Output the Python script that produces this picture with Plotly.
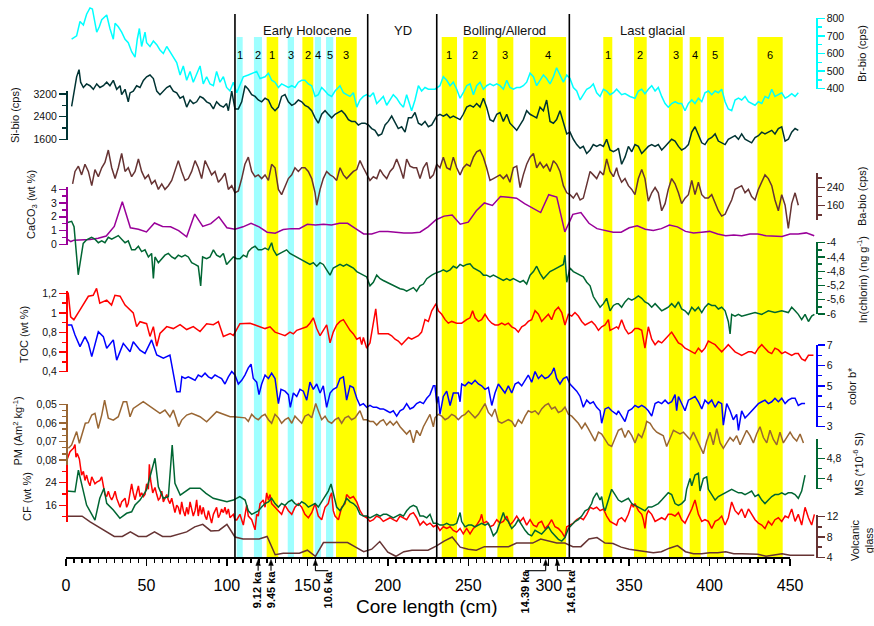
import plotly.graph_objects as go

# ---------------- data ----------------
# densely read series: (core length cm, value) pairs
br_bio_pts = [(3.5,681),(6.6,700),(8.7,782),(10.8,762),(12.8,823),(14.9,859),(16.4,853),(17.6,803),(19.1,721),(20.7,752),(22.2,792),(25.3,819),(27.3,742),(29.4,681),(30.5,772),(32.5,752),(34.6,721),(36.7,681),(38.7,661),(40.8,610),(42.9,579),(44.3,681),(45.6,742),(47.0,640),(49.1,721),(50.1,661),(52.2,640),(54.3,671),(56.4,650),(58.4,620),(60.5,600),(62.6,640),(64.6,610),(66.7,579),(68.8,549),(70.9,478),(72.9,529),(75.0,448),(77.1,498),(79.1,437),(81.2,488),(83.3,529),(85.3,427),(87.4,468),(89.5,427),(91.6,417),(93.6,498),(95.7,437),(97.8,468),(99.8,407),(101.9,387),(104.0,437),(106.1,377),(108.1,417),(110.2,468),
    (113.3,478),(115.4,488),(118.5,498),(120.6,458),(123.7,468),(125.8,488),(127.8,448),(129.9,437),(132.0,407),(134.0,427),(136.1,417),(138.2,407),(140.3,417),(142.3,407),(144.4,437),(146.5,448),(148.5,448),(150.6,427),(152.7,417),(154.8,356),(156.8,366),(158.9,407),(161.0,387),(163.0,366),(165.1,356),(167.2,387),(170.3,417),(172.4,377),(174.4,366),(176.5,356),(178.6,377),(180.7,295),(182.7,336),(184.8,356),(186.9,366),(188.9,356),(191.0,377),(193.1,316),(195.2,336),(197.2,356),(199.3,306),(201.4,336),(203.4,366),(205.5,346),(207.6,316),(209.7,295),(211.7,366),(214.8,275),(216.9,336),(219.0,417),(221.0,387),(223.1,407),(225.2,397),
    (229.3,397),(232.4,417),(234.5,468),(236.6,448),(238.7,417),(240.7,437),(242.8,397),(244.9,346),(246.9,377),(249.0,417),(251.1,427),(253.2,366),(255.2,417),(257.3,437),(259.4,397),(261.4,417),(263.5,427),(265.6,417),(267.7,427),(269.7,417),(271.8,397),(273.9,448),(275.9,407),(278.0,397),(280.1,407),(282.2,407),(284.2,417),(286.3,437),(288.4,488),(290.5,468),(292.5,417),(294.6,448),(296.7,478),(298.7,458),(300.8,427),(302.9,468),(304.9,519),(307.0,478),(309.1,437),(311.2,478),(313.2,458),(315.3,407),(317.4,387),(319.5,336),(321.5,366),(323.6,397),(325.7,407),(327.7,427),(329.8,377),(331.9,356),(334.0,397),(336.0,387),(338.1,366),(340.2,377),(342.2,397),
    (345.3,366),(347.4,372),(350.5,356),(353.6,346),(355.7,387),(357.8,397),(359.8,372),(361.9,397),(364.0,417),(366.1,387),(368.1,407),(370.2,356),(372.3,316),(374.3,295),(376.4,316),(378.5,326),(380.6,316),(382.6,316),(384.7,275),(386.8,316),(388.9,336),(390.9,316),(393.0,346),(395.1,326),(397.1,377),(399.2,387),(401.3,366),(403.4,387),(405.4,377),(407.5,397),(409.6,326),(411.6,285),(413.7,275),(415.8,336),(417.9,346),(419.9,336),(422.0,356),(424.1,326),(426.1,316),(428.2,306),(430.3,326),(432.4,316),(434.4,356),(436.5,346),(438.6,397),(440.6,356),(442.7,366),(444.8,377),(446.9,346),(448.9,356),(451.0,372),(453.1,356),(455.1,377)]

si_bio_pts = [(3.5,2761),(4.6,3114),(6.6,3807),(8.1,4060),(9.1,3618),(10.8,3429),(12.8,3555),(14.9,3492),(17.0,3366),(19.1,3555),(21.1,3429),(23.2,3492),(25.3,3618),(27.3,3492),(29.4,3681),(31.5,3366),(33.6,3492),(34.6,3177),(36.7,3366),(38.7,2925),(39.8,3240),(41.8,3303),(43.9,3492),(46.0,3429),(48.1,3681),(50.1,3807),(52.2,3871),(54.3,3744),(56.4,3303),(58.4,3177),(60.5,3303),(62.6,3429),(64.6,3492),(66.7,3303),(68.8,3240),(70.9,3051),(72.9,3114),(75.0,2736),(77.1,2988),(79.1,2862),(81.2,2925),(83.3,3114),(85.3,3051),(87.4,2925),(89.5,2862),(91.6,2673),(93.6,2925),(95.7,2799),(97.8,2736),(99.8,2862),(100.9,2610),(103.0,3303),(105.0,2673),(107.1,2673),(109.2,2925),(111.3,3492),
    (113.3,3366),(115.4,3177),(117.5,3114),(119.5,2988),(121.6,2925),(123.7,3051),(125.8,2988),(127.8,2736),(129.9,2610),(132.0,2736),(134.0,3114),(136.1,3177),(138.2,2925),(140.3,2799),(142.3,2862),(144.4,2988),(146.5,2925),(148.5,2799),(150.6,2736),(152.7,2610),(154.8,2358),(156.8,2169),(158.9,2484),(161.0,2610),(163.0,2484),(165.1,2358),(167.2,2484),(169.3,2547),(171.3,2610),(173.4,2484),(175.5,2295),(177.5,2232),(179.6,2232),(181.7,2106),(183.8,2169),(185.8,2169),(187.9,2106),(190.0,1980),(192.0,1917),(194.1,1727),(196.2,1790),(198.3,2106),(200.3,2232),(202.4,2421),(204.5,2169),(206.5,1980),(208.6,2043),(210.7,1854),(212.8,2358),(214.8,2358),(216.9,2547),(219.0,2169),(221.0,2106),(223.1,2232),(225.2,2043),(227.3,2106),
    (230.4,2421),(232.4,2484),(234.5,2421),(236.6,2484),(238.7,2358),(240.7,2421),(242.8,2358),(244.9,2295),(246.9,2484),(249.0,2736),(251.1,2799),(253.2,2736),(255.2,2862),(257.3,2736),(259.4,3051),(261.4,2736),(263.5,2295),(265.6,2232),(267.7,2484),(269.7,2547),(271.8,2232),(273.9,2484),(275.9,2169),(278.0,2043),(280.1,1917),(282.2,2106),(284.2,2295),(286.3,2610),(288.4,2484),(290.5,2421),(292.5,2358),(294.6,2736),(296.7,2610),(298.7,2988),(300.8,2232),(302.9,2169),(304.9,2295),(307.0,2610),(309.1,2232),(311.2,1790),(313.2,1854),(315.3,1601),(317.4,1412),(319.5,1286),(321.5,1349),(323.6,1097),(325.7,1223),(327.7,1412),(329.8,1349),(331.9,1412),(334.0,1349),(336.0,1601),(338.1,1223),(340.2,1160),(342.2,1223),
    (343.3,1286),(345.3,719),(347.4,971),(349.5,1349),(351.6,1160),(353.6,1412),(355.7,1349),(357.8,1097),(359.8,1223),(361.9,1349),(364.0,1412),(366.1,1349),(368.1,1412),(370.2,1223),(372.3,1349),(374.3,1475),(376.4,1601),(378.5,1538),(380.6,1349),(382.6,1223),(384.7,1286),(386.8,1412),(388.9,1853),(390.9,2043),(393.0,1727),(395.1,1475),(397.1,1412),(399.2,1601),(401.3,1664),(403.4,1790),(405.4,1538),(407.5,1475),(409.6,1412),(411.6,1601),(413.7,1664),(415.8,1727),(417.9,1601),(419.9,1790),(422.0,1601),(424.1,1538),(426.1,1475),(428.2,1664),(430.3,1727),(432.4,1853),(434.4,1790),(436.5,1853),(438.6,1916),(440.6,1790),(442.7,1980),(444.8,2043),(446.9,1538),(448.9,1601),(451.0,1853),(453.1,1980),(455.1,1916)]

ba_bio_pts = [(4.1,255),(5.6,309),(7.7,332),(9.7,294),(11.8,340),(13.9,309),(16.0,247),(18.0,317),(20.1,286),(22.2,325),(24.2,348),(26.3,402),(28.4,325),(30.5,278),(32.5,325),(34.6,387),(36.7,309),(38.7,325),(40.8,286),(42.9,309),(45.0,363),(47.0,309),(49.1,278),(51.2,294),(53.2,255),(55.3,270),(57.4,231),(59.5,255),(61.5,231),(63.6,247),(65.7,270),(67.7,309),(69.8,356),(71.9,309),(74.0,270),(76.0,278),(78.1,309),(80.2,356),(82.2,325),(84.3,278),(86.4,356),(88.5,325),(90.5,294),(92.6,309),(94.7,262),(96.7,278),(98.8,301),(100.9,231),(103.0,247),(105.0,216),(107.1,224),(109.2,278),(111.2,340),(113.3,371),
    (115.4,309),(117.5,286),(119.5,294),(121.6,278),(123.7,294),(125.8,270),(127.8,340),(129.9,325),(132.0,231),(134.0,208),(136.1,247),(138.2,278),(140.3,294),(142.3,325),(144.4,309),(146.5,325),(148.5,325),(150.6,309),(152.7,278),(154.8,216),(155.8,162),(157.9,231),(159.9,278),(162.0,309),(164.1,294),(166.1,286),(168.2,270),(170.3,325),(172.4,294),(174.4,278),(176.5,294),(178.6,309),(180.7,317),(182.7,356),(184.8,325),(186.9,294),(188.9,270),(191.0,286),(193.1,278),(195.2,317),(197.2,294),(199.3,278),(201.4,309),(203.4,325),(205.5,363),(207.6,325),(209.7,278),(211.7,363),(213.8,332),(215.9,325),(217.9,325),(220.0,278),(222.1,325),(224.2,348),(226.2,278),(228.3,294),
    (230.4,340),(232.4,325),(234.5,371),(236.6,325),(238.7,317),(240.7,371),(242.8,325),(244.9,294),(246.9,325),(249.0,340),(251.1,332),(253.2,371),(255.2,394),(257.3,402),(259.4,371),(261.4,325),(263.5,270),(265.6,278),(267.7,286),(269.7,294),(271.8,278),(273.9,294),(275.9,262),(278.0,325),(280.1,332),(282.2,239),(284.2,294),(286.3,340),(288.4,371),(290.5,387),(292.5,325),(294.6,348),(296.7,325),(298.7,340),(300.8,309),(302.9,356),(304.9,340),(307.0,309),(309.1,247),(311.2,216),(313.2,208),(315.3,193),(317.4,216),(319.5,185),(321.5,193),(323.6,247),(325.7,309),(327.7,294),(329.8,278),(331.9,309),(334.0,294),(336.0,363),(338.1,309),(340.2,286),(342.2,325),
    (343.3,294),(345.3,262),(347.4,278),(349.5,247),(351.6,231),(353.6,208),(355.7,278),(357.8,317),(359.8,278),(361.9,180),(364.0,216),(366.1,239),(368.1,216),(370.2,138),(372.3,169),(374.3,231),(376.4,278),(378.5,255),(380.6,216),(382.6,169),(384.7,193),(386.8,208),(388.9,270),(390.9,208),(393.0,262),(395.1,208),(397.1,193),(399.2,193),(401.3,208),(403.4,169),(405.4,138),(407.5,115),(409.6,123),(411.6,154),(413.7,185),(415.8,231),(417.9,239),(419.9,247),(422.0,216),(424.1,231),(426.1,200),(428.2,185),(430.3,231),(432.4,262),(434.4,294),(436.5,278),(438.6,247),(440.6,185),(442.7,138),(444.8,208),(446.9,162),(448.9,61),(451.0,169),(453.1,216),(455.1,162)]

ln_chlorin_pts = [(0.4,-3.44),(3.5,-3.40),(5.0,-3.55),(7.6,-4.9),(10.7,-4.02),(12.8,-3.92),(15.9,-3.85),(18.0,-3.90),(20.1,-4.0),(22.2,-3.95),(24.2,-4.0),(26.3,-3.85),(28.4,-3.90),(30.5,-3.85),(32.5,-3.80),(34.6,-3.90),(36.7,-4.0),(38.7,-3.95),(40.8,-4.2),(42.9,-4.2),(45.0,-4.1),(47.0,-4.25),(49.1,-4.2),(51.2,-4.4),(53.2,-4.3),(54.3,-5.0),(55.3,-4.4),(57.4,-4.56),(59.5,-4.45),(61.5,-4.35),(63.6,-4.30),(65.7,-4.4),(67.7,-4.45),(69.8,-4.35),(71.9,-4.4),(74.0,-4.35),(76.0,-4.4),(78.1,-4.56),(80.2,-4.61),(82.2,-4.66),(83.7,-5.21),(84.9,-4.4),(87.4,-4.45),(89.5,-4.4),(91.6,-4.2),(93.6,-4.35),(95.7,-4.4),(97.8,-4.3),(99.8,-4.61),(101.9,-4.5),(104.0,-4.4),(106.1,-4.45),(108.1,-4.45),(110.2,-4.35),(112.3,-4.4),
    (113.3,-4.25),(115.4,-4.15),(117.5,-4.10),(119.5,-4.20),(121.6,-4.20),(123.7,-4.15),(125.8,-4.20),(127.8,-4.0),(128.9,-4.20),(130.9,-4.35),(133.0,-4.30),(135.1,-4.25),(137.1,-4.20),(139.2,-4.30),(141.3,-4.35),(143.4,-4.40),(145.4,-4.45),(147.5,-4.51),(149.6,-4.56),(151.6,-4.61),(153.7,-4.56),(155.8,-4.66),(157.9,-4.56),(159.9,-4.61),(162.0,-4.76),(164.1,-4.91),(166.1,-4.71),(168.2,-4.66),(170.3,-4.61),(172.4,-4.66),(174.4,-4.61),(176.5,-4.66),(178.6,-4.71),(180.7,-4.81),(182.7,-4.86),(184.8,-4.91),(186.9,-4.96),(188.9,-5.21),(191.0,-5.11),(193.1,-4.91),(195.2,-5.01),(197.2,-5.06),(199.3,-5.11),(201.4,-5.16),(203.4,-5.21),(205.5,-5.26),(207.6,-5.29),(209.7,-5.31),(211.7,-5.36),(213.8,-5.31),(215.9,-5.26),(217.9,-5.36),(220.0,-5.21),(222.1,-5.16),(224.2,-5.01),(227.3,-4.91),
    (229.3,-4.86),(232.4,-4.81),(234.5,-4.76),(236.6,-4.81),(238.7,-4.76),(240.7,-4.66),(242.8,-4.71),(244.9,-4.61),(246.9,-4.66),(249.0,-4.61),(251.1,-4.59),(253.2,-4.71),(255.2,-4.76),(257.3,-4.81),(259.4,-4.91),(261.4,-4.91),(263.5,-4.96),(265.6,-4.91),(267.7,-4.96),(269.7,-5.01),(271.8,-5.06),(273.9,-5.01),(275.9,-5.06),(278.0,-5.01),(280.1,-5.06),(282.2,-5.11),(284.2,-5.06),(286.3,-5.16),(288.4,-4.91),(290.5,-4.81),(292.5,-4.66),(294.6,-4.86),(296.7,-5.01),(298.7,-4.91),(300.8,-4.81),(302.9,-4.76),(304.9,-4.71),(307.0,-4.66),(309.1,-4.61),(310.1,-4.35),(311.2,-5.11),(313.2,-4.71),(315.3,-4.81),(317.4,-4.86),(319.5,-4.91),(321.5,-4.96),(323.6,-5.11),(325.7,-5.21),(327.7,-5.51),(329.8,-5.66),(331.9,-5.81),(334.0,-5.71),(336.0,-5.56),(338.1,-5.91),(340.2,-5.76),(342.2,-5.71),
    (343.3,-5.71),(345.3,-5.81),(347.4,-5.66),(349.5,-5.56),(351.6,-5.61),(353.6,-5.56),(355.7,-5.49),(357.8,-5.56),(359.8,-5.66),(361.9,-5.71),(364.0,-5.81),(366.1,-5.71),(370.2,-5.91),(372.3,-5.86),(374.3,-5.81),(376.4,-5.71),(378.5,-5.81),(380.6,-5.66),(382.6,-5.86),(384.7,-5.91),(386.8,-6.01),(388.9,-5.81),(390.9,-5.91),(393.0,-5.81),(395.1,-5.96),(397.1,-5.81),(399.2,-5.71),(401.3,-5.76),(403.4,-5.76),(405.4,-5.86),(407.5,-5.81),(409.6,-5.91),(411.6,-6.21),(412.7,-6.56),(413.7,-6.01),(415.8,-6.06),(417.9,-6.01),(419.9,-6.06),(424.1,-6.01),(428.2,-5.96),(432.4,-6.01),(436.5,-5.91),(440.6,-5.96),(444.8,-5.91),(448.9,-5.96),(451.0,-5.81),(453.1,-5.91),(455.1,-6.01),(457.2,-6.16),(459.3,-6.01),(461.4,-6.21),(463.4,-6.06),(465.1,-6.01)]

toc_pts = [(0.4,1.22),(1.4,1.20),(2.9,0.96),(4.9,0.93),(8.7,1.03),(13.9,1.17),(16.9,1.18),(19.0,1.25),(21.0,1.10),(25.3,1.13),(28.3,1.08),(30.4,1.18),(33.6,1.17),(36.7,1.08),(41.8,1.0),(43.9,0.86),(46.0,0.91),(50.1,0.89),(52.2,0.76),(54.3,0.86),(56.4,0.66),(58.4,0.79),(62.6,0.86),(66.7,0.84),(70.9,0.88),(75.0,0.83),(79.1,0.86),(83.3,0.81),(87.4,0.89),(91.6,0.88),(94.7,0.91),(97.8,0.76),(102.0,0.79),(104.0,0.77),(108.1,0.89),
    (114.4,0.895),(117.5,0.877),(120.6,0.858),(123.7,0.840),(126.8,0.858),(129.9,0.804),(133.0,0.786),(136.1,0.767),(139.2,0.804),(141.3,0.786),(143.4,0.822),(146.5,0.840),(149.6,0.858),(151.6,0.895),(153.7,0.950),(155.8,0.840),(157.9,0.767),(159.9,0.822),(162.0,0.877),(164.1,0.694),(166.1,0.804),(168.2,0.877),(170.3,0.913),(172.4,0.931),(174.4,0.877),(176.5,0.822),(178.6,0.786),(180.7,0.731),(182.7,0.749),(183.8,0.676),(184.8,0.749),(186.9,0.640),(188.9,0.694),(191.0,0.877),(192.5,1.041),(194.1,0.786),(196.2,0.786),(198.3,0.786),(200.3,0.786),(202.4,0.767),(204.5,0.731),(206.5,0.713),(208.6,0.676),(210.7,0.713),(212.8,0.749),(214.8,0.731),(216.9,0.749),(219.0,0.767),(221.0,0.804),(223.1,0.931),(225.2,0.913),(227.3,1.022),
    (230.0,1.095),(231.4,1.022),(233.5,0.986),(235.6,0.931),(237.6,0.895),(239.7,0.913),(242.8,0.895),(245.9,0.895),(249.0,0.931),(251.1,0.950),(252.7,1.022),(254.2,0.950),(256.3,0.913),(258.3,0.931),(260.4,0.986),(262.5,0.931),(264.6,0.895),(266.6,0.877),(268.7,0.877),(270.8,0.895),(272.8,0.877),(274.9,0.895),(277.0,0.858),(279.1,0.840),(281.1,0.804),(283.2,0.858),(285.3,0.877),(287.3,0.913),(289.4,0.931),(291.5,1.022),(293.6,0.986),(295.6,0.913),(297.7,0.950),(299.8,0.986),(301.8,0.931),(303.9,1.022),(306.0,1.059),(308.1,1.004),(310.1,0.877),(312.2,0.986),(314.3,0.968),(316.3,1.004),(318.4,0.968),(320.5,0.913),(322.6,0.877),(324.6,0.895),(326.7,0.913),(328.8,0.877),(330.9,0.822),(332.9,0.858),(335.0,0.877),(337.1,0.931),(338.1,0.822),(340.2,0.840),(342.2,0.858),
    (343.3,0.840),(345.3,0.931),(347.4,0.840),(349.5,0.786),(351.6,0.804),(353.6,0.840),(355.7,0.840),(357.8,0.822),(359.8,0.640),(361.9,0.858),(364.0,0.731),(366.1,0.676),(368.1,0.713),(370.2,0.694),(372.3,0.731),(374.3,0.767),(376.4,0.804),(378.5,0.749),(380.6,0.694),(382.6,0.676),(384.7,0.640),(386.8,0.622),(388.9,0.603),(390.9,0.585),(393.0,0.640),(395.1,0.603),(397.1,0.640),(399.2,0.713),(401.3,0.694),(403.4,0.676),(405.4,0.640),(407.5,0.603),(409.6,0.640),(411.6,0.676),(413.7,0.640),(415.8,0.603),(417.9,0.585),(419.9,0.567),(422.0,0.585),(424.1,0.603),(426.1,0.603),(428.2,0.585),(430.3,0.640),(432.4,0.676),(434.4,0.640),(436.5,0.603),(438.6,0.585),(440.6,0.640),(442.7,0.622),(444.8,0.585),(446.9,0.603),(448.9,0.585),(451.0,0.567),(453.1,0.585),(455.1,0.585),(457.2,0.530),(459.3,0.512),(461.4,0.567),(464.5,0.567)]

color_b_pts = [(0.4,7.98),(3.5,7.98),(5.6,7.49),(8.7,6.92),(11.8,7.41),(13.9,7.08),(16.0,6.43),(20.1,7.65),(23.2,7.41),(25.3,6.84),(29.4,7.25),(31.5,6.26),(35.6,7.08),(39.8,6.67),(41.8,7.16),(46.0,6.75),(49.1,6.59),(53.2,7.25),(56.4,6.51),(60.5,6.35),(64.6,6.51),(68.8,4.71),(70.9,4.71),(72.0,5.45),
    (74.0,5.36),(76.0,5.44),(78.1,5.36),(80.2,5.27),(82.2,5.53),(84.3,5.44),(86.4,5.62),(88.5,5.44),(90.5,5.36),(92.6,5.53),(94.7,5.44),(96.7,5.36),(98.8,5.09),(100.9,5.44),(103.0,5.70),(105.0,5.53),(107.1,5.09),(109.2,5.27),(111.2,5.53),
    (113.3,5.88),(115.0,6.06),(116.4,5.36),(118.5,5.18),(119.95,4.57),(121.6,5.09),(123.7,5.53),(125.8,5.36),(127.8,5.62),(129.9,5.36),(130.9,4.74),(132.0,4.13),(133.6,4.83),(136.1,4.74),(138.2,4.57),(139.4,3.95),(141.3,4.65),(143.4,4.48),(145.4,4.83),(147.5,4.74),(149.6,4.30),(151.6,5.18),(153.7,4.83),(155.8,5.09),(157.9,4.65),(159.9,5.00),(162.0,3.95),(164.1,4.65),(166.1,4.83),(168.2,4.92),(170.3,5.36),(172.4,5.44),(174.4,4.30),(176.5,5.00),(178.6,4.92),(180.7,4.39),(182.7,4.04),(184.8,4.13),(186.9,3.95),(188.9,4.04),(191.0,3.95),(193.1,3.95),(195.2,3.87),(197.2,3.87),(199.3,3.78),(201.4,3.69),(203.4,3.78),(205.5,3.52),(207.6,3.78),(209.7,3.87),(211.7,4.13),(213.8,3.87),(215.9,3.95),(217.9,4.13),(220.0,4.22),(222.1,4.13),(224.2,4.39),(226.2,4.57),(228.3,5.00),
    (229.3,5.00),(230.4,4.13),(231.4,4.48),(232.4,3.60),(234.5,4.48),(236.6,4.74),(238.7,4.04),(240.7,4.65),(243.8,4.65),(244.9,4.22),(245.9,5.09),(248.0,5.00),(250.1,5.18),(252.1,5.09),(254.2,5.27),(256.3,5.09),(258.3,5.00),(260.4,4.83),(262.5,4.92),(264.6,4.04),(266.6,4.65),(268.7,5.09),(270.8,4.83),(272.8,4.65),(274.9,5.00),(277.0,4.65),(279.1,5.09),(281.1,5.18),(283.2,5.00),(285.3,5.27),(287.3,5.53),(289.4,5.18),(291.5,5.70),(293.6,5.36),(295.6,5.53),(297.7,5.36),(299.8,5.44),(301.8,5.62),(303.3,5.88),(304.9,5.36),(307.0,5.09),(309.1,5.36),(311.2,5.44),(313.2,5.09),(315.3,4.92),(317.4,4.74),(319.5,4.48),(321.5,3.95),(323.6,4.30),(325.7,4.13),(327.7,4.22),(329.8,3.95),(331.9,3.78),(332.9,3.17),(335.0,3.87),(337.1,3.95),(339.1,3.78),(342.2,3.60),
    (343.3,3.78),(345.3,3.52),(347.4,3.25),(349.5,3.78),(351.6,3.87),(353.6,4.04),(355.7,3.95),(357.8,4.04),(359.8,3.95),(361.9,3.78),(364.0,3.52),(366.1,4.13),(368.1,4.22),(370.2,4.13),(372.3,4.30),(374.3,4.13),(376.4,4.22),(378.5,4.57),(379.5,3.78),(380.6,4.48),(382.6,4.13),(384.7,3.78),(386.8,4.30),(388.9,4.39),(390.9,4.48),(393.0,4.22),(395.1,3.87),(397.1,4.30),(399.2,4.13),(401.3,4.30),(403.4,3.95),(405.4,4.22),(407.5,4.13),(408.5,3.08),(410.6,4.13),(412.7,3.78),(414.7,3.34),(416.8,3.60),(417.9,2.82),(419.9,3.78),(422.0,3.43),(424.1,3.60),(426.1,3.78),(428.2,3.95),(430.3,4.13),(432.4,4.22),(434.4,4.30),(436.5,4.13),(438.6,4.22),(440.6,4.39),(442.7,4.22),(444.8,4.39),(446.9,4.13),(448.9,4.30),(451.0,4.39),(453.1,4.39),(455.1,4.04),(457.2,4.13),(459.3,4.13)]

pm_pts = [(1.5,0.0737),(3.5,0.0719),(6.6,0.0647),(8.3,0.0710),(12.0,0.0602),(13.9,0.0599),(16.0,0.0558),(18.0,0.0549),(20.0,0.0630),(22.2,0.0558),(24.0,0.0477),(26.3,0.0575),(29.4,0.0585),(32.5,0.0567),(35.6,0.0486),(37.7,0.0486),(39.8,0.0567),(41.8,0.0522),(48.0,0.0486),(54.3,0.0522),(58.4,0.0549),(61.5,0.0531),(64.6,0.0567),(66.7,0.0531),(68.8,0.0583),(70.0,0.0620),(71.9,0.0585),(75.0,0.0558),(78.1,0.0549),(83.3,0.0567),(87.4,0.0594),(93.6,0.0540),(102.0,0.0567),(104.0,0.0567),
    (111.3,0.0573),(113.3,0.0592),(115.4,0.0554),(117.5,0.0573),(119.5,0.0583),(121.6,0.0564),(123.7,0.0554),(125.8,0.0583),(127.8,0.0602),(129.9,0.0554),(132.0,0.0573),(134.0,0.0602),(136.1,0.0583),(138.2,0.0573),(140.3,0.0602),(142.3,0.0564),(144.4,0.0583),(146.5,0.0602),(148.5,0.0564),(150.6,0.0554),(152.7,0.0573),(155.2,0.0496),(156.8,0.0535),(158.9,0.0583),(161.0,0.0564),(163.0,0.0592),(165.1,0.0602),(167.2,0.0583),(169.3,0.0573),(171.3,0.0602),(173.4,0.0573),(175.5,0.0564),(177.5,0.0583),(179.6,0.0573),(182.7,0.0535),(184.8,0.0583),(186.9,0.0583),(188.9,0.0592),(191.0,0.0592),(193.1,0.0612),(195.2,0.0592),(197.2,0.0583),(199.3,0.0612),(201.4,0.0592),(203.4,0.0612),(205.5,0.0592),(207.6,0.0621),(209.7,0.0640),(211.7,0.0660),(213.8,0.0640),(215.9,0.0708),(217.9,0.0640),(220.0,0.0669),(222.1,0.0621),(224.2,0.0583),(226.2,0.0554),(228.3,0.0621),
    (229.3,0.0573),(231.4,0.0554),(233.5,0.0564),(235.6,0.0583),(237.6,0.0573),(239.7,0.0554),(241.8,0.0564),(243.8,0.0583),(245.9,0.0564),(248.0,0.0554),(250.1,0.0535),(252.1,0.0554),(254.2,0.0573),(256.3,0.0554),(258.3,0.0525),(260.4,0.0496),(262.5,0.0544),(264.6,0.0564),(266.6,0.0525),(268.7,0.0592),(270.8,0.0602),(272.8,0.0592),(274.9,0.0583),(277.0,0.0592),(279.1,0.0621),(281.1,0.0583),(283.2,0.0602),(285.3,0.0564),(287.3,0.0535),(289.4,0.0544),(291.5,0.0535),(293.6,0.0554),(295.6,0.0525),(297.7,0.0506),(299.8,0.0496),(301.8,0.0525),(303.9,0.0515),(306.0,0.0544),(308.1,0.0535),(310.1,0.0515),(312.2,0.0554),(314.3,0.0564),(316.3,0.0583),(318.4,0.0602),(320.5,0.0631),(322.6,0.0602),(324.6,0.0631),(326.7,0.0669),(328.8,0.0698),(330.9,0.0650),(332.9,0.0660),(335.0,0.0689),(337.1,0.0718),(339.1,0.0727),(341.2,0.0679),(343.3,0.0640),
    (345.3,0.0631),(347.4,0.0679),(349.5,0.0640),(351.6,0.0669),(353.6,0.0708),(355.7,0.0660),(357.8,0.0679),(359.8,0.0631),(360.9,0.0592),(363.0,0.0602),(365.0,0.0631),(367.1,0.0650),(369.2,0.0660),(371.2,0.0669),(373.3,0.0727),(375.4,0.0679),(377.5,0.0640),(379.5,0.0650),(381.6,0.0660),(383.7,0.0650),(385.7,0.0669),(387.8,0.0689),(389.9,0.0650),(392.0,0.0689),(394.0,0.0718),(396.1,0.0766),(398.2,0.0698),(400.2,0.0650),(402.3,0.0718),(404.4,0.0631),(406.5,0.0708),(408.5,0.0737),(410.6,0.0708),(412.7,0.0679),(414.7,0.0698),(416.8,0.0669),(418.9,0.0718),(420.9,0.0679),(423.0,0.0640),(425.1,0.0669),(427.2,0.0708),(429.2,0.0660),(431.3,0.0621),(433.4,0.0679),(435.5,0.0708),(437.5,0.0640),(439.6,0.0689),(441.7,0.0718),(443.7,0.0650),(445.8,0.0708),(447.9,0.0679),(450.0,0.0650),(452.0,0.0679),(454.1,0.0698),(456.2,0.0660),(458.3,0.0708)]

cf_pts = [(0.4,31.8),(1.45,33.7),(2.5,35.0),(3.5,35.6),(4.6,36.2),(5.6,37.5),(6.2,33.0),(7.0,34.3),(8.3,32.4),(9.7,26.7),(10.8,28.0),(11.8,24.8),(12.8,26.7),(13.9,24.2),(14.9,22.9),(16.0,26.1),(17.0,24.8),(18.0,23.6),(19.1,24.2),(21.1,24.8),(22.2,26.1),(23.2,22.3),(24.2,19.8),(25.3,19.1),(26.3,21.0),(27.3,19.1),(28.4,17.9),(29.4,19.1),(30.5,21.0),(31.5,18.5),(32.5,16.6),(33.6,15.3),(34.6,17.2),(35.6,17.9),(36.7,18.5),(37.7,15.3),(38.7,16.6),(39.8,20.4),(40.8,23.6),(41.8,20.4),(42.9,17.9),(43.9,20.4),(45.0,22.9),(46.0,19.1),(47.0,20.4),(48.1,19.1),(49.1,19.8),(50.1,23.6),(51.2,21.7),(51.8,30.5),(52.6,24.8),(53.9,20.4),(55.3,22.3),(56.4,19.8),(57.4,17.9),(58.4,18.5),(59.5,21.0),(60.5,17.2),(61.5,18.5),(62.6,19.8),(63.6,17.9),(64.6,16.6),(65.7,18.5),(66.7,15.3),(67.7,13.4),(68.8,16.0),(69.8,15.3),(70.9,12.8),(71.9,17.2),(72.9,14.1),(74.0,12.2),(75.0,15.3),(76.0,12.8),(77.1,17.2),(78.1,14.7),(79.1,12.2),(80.2,14.1),(81.2,17.9),(82.2,12.2),(83.3,16.0),(84.3,12.8),(85.3,15.3),(86.4,12.2),(87.4,10.9),(88.5,14.1),(89.5,11.6),(90.5,9.7),(91.6,12.8),(93.6,15.3),(94.7,11.6),(95.7,12.8),(96.7,14.7),(97.8,13.4),(98.8,15.3),(99.8,12.8),(100.9,14.7),(101.9,11.6),(104.0,12.8),(105.0,10.9),(106.1,10.8),(108.1,12.8),(110.2,9.0),(112.3,16.1),
    (113.3,12.2),(115.4,10.9),(117.5,7.3),(118.5,12.8),(119.5,12.2),(120.6,16.6),(122.6,17.9),(123.7,15.3),(124.7,20.4),(125.8,17.9),(126.8,19.8),(127.8,16.6),(129.9,15.3),(132.0,14.1),(134.0,12.8),(136.1,16.0),(138.2,14.1),(140.3,12.8),(142.3,15.3),(144.4,16.6),(146.5,15.3),(148.5,12.8),(150.6,11.6),(152.7,13.4),(154.8,16.6),(156.8,12.2),(158.9,10.9),(161.0,15.3),(163.0,16.6),(164.1,19.1),(165.1,20.4),(166.1,14.1),(167.2,12.2),(169.3,10.9),(171.3,15.3),(173.4,16.6),(174.4,19.8),(176.5,18.5),(178.6,19.1),(180.7,17.2),(182.7,14.1),(184.8,12.2),(186.9,11.6),(188.9,10.3),(191.0,10.9),(193.1,12.2),(195.2,11.6),(197.2,10.3),(199.3,10.9),(201.4,11.6),(203.4,10.9),(205.5,10.3),(207.6,12.2),(209.7,11.6),(211.7,10.9),(213.8,12.8),(215.9,13.4),(217.9,11.6),(220.0,9.0),(222.1,10.3),(224.2,9.0),(226.2,9.7),(228.3,8.4),
    (230.4,9.0),(232.4,7.1),(234.5,8.4),(236.6,7.8),(238.7,8.4),(240.7,7.1),(242.8,6.5),(244.9,7.8),(246.9,5.9),(249.0,7.8),(251.1,5.9),(253.2,7.8),(255.2,9.0),(257.3,10.9),(258.3,12.8),(259.4,9.7),(261.4,10.3),(263.5,8.4),(265.6,9.0),(267.7,10.9),(269.7,9.7),(271.8,10.3),(273.9,12.2),(275.9,9.0),(278.0,10.3),(280.1,12.2),(282.2,10.3),(284.2,11.6),(286.3,9.0),(288.4,10.9),(290.5,9.0),(292.5,8.4),(293.6,9.7),(295.6,10.3),(297.7,7.8),(299.8,9.0),(301.8,10.9),(303.9,8.4),(306.0,7.8),(308.1,6.5),(310.1,4.6),(311.2,8.4),(313.2,9.0),(315.3,9.7),(317.4,10.9),(319.5,11.6),(321.5,10.9),(323.6,12.8),(325.7,15.3),(327.7,14.7),(329.8,15.3),(331.9,14.1),(334.0,14.7),(336.0,12.2),(338.1,10.3),(340.2,9.7),(342.2,9.0),
    (343.3,10.9),(345.3,11.6),(347.4,10.3),(349.5,12.8),(351.6,16.6),(352.6,15.3),(353.6,16.6),(355.7,14.1),(357.8,12.8),(358.8,10.9),(359.8,7.8),(360.9,12.8),(361.9,14.1),(364.0,12.8),(366.1,10.3),(368.1,10.9),(370.2,11.6),(372.3,10.9),(374.3,12.8),(376.4,12.8),(378.5,12.2),(380.6,13.4),(382.6,10.9),(384.7,9.7),(386.8,12.2),(388.9,14.7),(390.9,17.9),(393.0,12.8),(395.1,10.3),(397.1,10.9),(399.2,10.3),(401.3,7.8),(403.4,10.3),(405.4,10.9),(407.5,12.2),(409.6,9.0),(411.6,11.6),(413.7,17.2),(415.8,14.1),(417.9,12.8),(419.9,14.7),(422.0,11.6),(424.1,14.7),(426.1,12.8),(428.2,10.9),(430.3,9.7),(432.4,9.0),(434.4,7.8),(436.5,10.3),(438.6,9.0),(440.6,10.9),(442.7,11.6),(444.8,10.3),(446.9,12.2),(448.9,11.6),(451.0,14.7),(453.1,10.3),(455.1,12.8),(457.2,9.0),(459.3,15.3),(461.4,11.6),(463.4,9.0),(465.1,12.8)]

ms_pts = [(0.4,3.49),(5.6,3.46),(7.7,4.33),(9.7,3.8),(12.8,2.93),(18.0,2.33),(20.0,3.0),(21.0,3.2),(23.6,3.6),(25.3,3.0),(29.4,2.73),(33.5,2.4),(37.7,2.6),(40.8,2.66),(42.9,2.93),(46.0,3.13),(50.0,3.53),(53.0,4.2),(55.3,4.8),(57.4,3.66),(60.5,3.2),(63.6,3.26),(66.0,5.33),(67.7,3.8),(71.0,3.33),(77.0,3.6),(83.3,3.6),(87.0,3.4),(91.5,3.2),(100.0,3.06),(104.0,3.13),(108.0,3.27),
    (111.3,3.13),(113.3,2.70),(115.4,2.56),(117.5,2.63),(119.5,2.70),(121.6,2.85),(123.7,2.99),(125.8,3.06),(127.8,3.20),(129.9,2.99),(132.0,2.85),(134.0,2.99),(136.1,2.92),(138.2,3.06),(140.3,3.13),(142.3,2.99),(144.4,2.92),(146.5,3.06),(148.5,2.99),(150.6,2.85),(152.7,2.92),(154.8,2.99),(156.8,2.85),(158.9,3.06),(161.0,3.27),(163.0,3.49),(164.7,3.77),(166.1,3.35),(168.2,2.85),(170.3,2.70),(172.4,2.92),(174.4,3.20),(176.5,3.06),(178.6,2.99),(180.7,2.85),(182.7,2.56),(184.8,2.49),(186.9,2.49),(188.9,2.42),(191.0,2.49),(193.1,2.56),(195.2,2.49),(197.2,2.56),(199.3,2.56),(201.4,2.49),(203.4,2.42),(205.5,2.49),(207.6,2.56),(209.7,2.49),(211.7,2.70),(213.8,2.85),(215.9,2.92),(217.9,2.85),(220.0,2.49),(222.1,2.49),(224.2,2.42),(226.2,2.56),(228.3,2.20),
    (230.4,2.20),(232.4,2.13),(234.5,2.13),(236.6,2.20),(238.7,2.13),(240.7,2.13),(242.8,2.20),(244.9,2.63),(245.9,2.27),(248.0,2.06),(250.1,2.13),(252.1,2.13),(254.2,2.06),(256.3,2.13),(258.3,2.20),(260.4,2.13),(262.5,2.20),(263.5,2.06),(265.6,1.70),(267.7,1.85),(269.7,2.27),(271.8,2.63),(272.8,2.42),(274.9,2.27),(277.0,1.99),(279.1,2.13),(281.1,2.35),(283.2,2.13),(285.3,1.92),(287.3,1.77),(289.4,1.70),(291.5,1.92),(293.6,1.85),(295.6,1.77),(297.7,1.92),(299.8,2.06),(301.8,1.85),(303.9,1.70),(306.0,1.56),(308.1,1.49),(310.1,1.63),(312.2,1.99),(314.3,2.13),(316.3,2.27),(318.4,2.35),(320.5,2.49),(322.6,2.70),(324.6,2.77),(326.7,2.99),(327.7,3.20),(329.8,3.42),(330.9,3.27),(331.9,3.13),(332.9,3.27),(334.0,2.85),(335.0,2.70),(337.1,3.13),(339.1,3.56),(341.2,3.35),
    (343.3,3.13),(345.3,3.06),(347.4,3.13),(349.5,3.20),(351.6,2.99),(353.6,2.92),(355.7,2.85),(357.8,2.77),(359.8,2.70),(361.9,2.85),(364.0,2.85),(366.1,2.92),(368.1,2.99),(370.2,3.13),(372.3,3.27),(374.3,3.42),(376.4,3.35),(378.5,2.99),(380.6,2.92),(382.6,2.99),(384.7,3.13),(385.7,3.56),(387.8,3.99),(388.9,3.70),(390.9,4.13),(393.0,4.20),(394.0,3.49),(396.1,3.99),(398.2,4.06),(399.2,3.56),(401.3,3.35),(403.4,3.13),(405.4,3.27),(407.5,3.35),(409.6,3.42),(411.6,3.49),(413.7,3.56),(415.8,3.49),(417.9,3.42),(419.9,3.42),(422.0,3.35),(424.1,3.42),(426.1,3.49),(428.2,3.27),(430.3,3.35),(432.4,3.13),(434.4,2.99),(436.5,3.13),(438.6,3.27),(440.6,3.35),(442.7,3.35),(444.8,3.42),(446.9,3.35),(448.9,3.42),(451.0,3.42),(453.1,3.35),(455.1,3.20),(457.2,3.49),(459.3,4.13)]

# series read on a regular depth grid
depth_cm = [0, 3] + list(range(5, 470, 5))

caco3_wt_pct = [0.44, 0.2, 0.3,
    0.3, 0.35, 0.44, 0.6, 1.3, 3.1, 1.2, 1.1, 0.9, 1.55,
    1.3, 1.28, 1.0, 0.55, 2.2, 1.3, 1.5, 2.0, 1.2, 1.1,
    1.27, 1.53, 1.27, 0.88, 0.81, 1.07, 1.14, 1.14, 1.46, 1.40,
    1.46, 1.40, 1.53, 1.53, 1.14, 0.75, 0.75, 0.94, 0.94, 0.88,
    0.83, 0.83, 0.88, 1.27, 1.79, 2.05, 2.13, 1.46, 1.61, 2.44,
    3.01, 2.83, 3.48, 3.43, 3.35, 2.96, 2.65, 2.31, 3.61, 3.43,
    0.9, 2.18, 2.31, 1.53, 1.14, 1.01, 0.88, 0.88, 1.20, 1.35,
    1.09, 1.01, 1.14, 1.40, 1.27, 0.94, 0.83, 0.88, 0.94, 0.75,
    0.62, 0.67, 0.62, 0.75, 0.75, 0.62, 0.62, 0.57, 0.75, 0.75,
    0.83, 0.62]

volcanic_glass = [12.1, 12.1, 12.1,
    12.1, 11.0, 10.0, 9.0, 8.1, 8.1, 9.0, 8.1, 8.1, 9.0,
    8.1, 8.1, 8.5, 9.0, 10.0, 10.5, 9.2, 9.3, 10.5, 8.0,
    7.6, 7.6, 7.6, 8.1, 4.5, 4.8, 4.8, 4.8, 5.4, 4.2,
    6.9, 6.9, 6.9, 6.9, 6.0, 5.1, 5.6, 7.1, 5.0, 4.2,
    5.1, 5.4, 5.4, 5.4, 6.2, 7.2, 8.0, 6.0, 5.6, 5.4,
    6.1, 6.1, 6.1, 6.1, 6.8, 6.8, 6.8, 7.6, 7.2, 6.8,
    6.8, 6.1, 6.1, 7.6, 7.9, 6.8, 6.7, 6.0, 5.6, 5.4,
    5.1, 4.9, 5.1, 5.8, 6.3, 5.1, 4.7, 4.7, 4.9, 4.9,
    5.1, 4.7, 4.7, 4.7, 4.6, 4.2, 4.4, 4.7, 4.4, 4.4,
    4.4, 4.4]

period_names = ['Early Holocene', 'YD', 'Bolling/Allerod', 'Last glacial']
period_center_cm = [149.6, 209.2, 272.7, 364.2]
boundary_cm = [105.0, 187.5, 230.4, 312.8]

band_start_cm = [106.1, 116.8, 124.7, 137.8, 146.9, 154.6, 161.6, 167.8,
                 233.5, 246.9, 268.1, 288.4,
                 333.9, 353.0, 374.7, 387.6, 398.4, 429.7]
band_end_cm = [109.8, 121.8, 131.9, 141.7, 153.7, 158.5, 166.1, 180.7,
               243.0, 261.0, 278.0, 310.8,
               339.5, 360.9, 383.3, 394.4, 408.8, 445.4]
band_kind = ['c', 'c', 'y', 'c', 'y', 'c', 'c', 'y',
             'y', 'y', 'y', 'y',
             'y', 'y', 'y', 'y', 'y', 'y']
band_label = ['1', '2', '1', '3', '2', '4', '5', '3',
              '1', '2', '3', '4',
              '1', '2', '3', '4', '5', '6']

ka_labels = ['9.12 ka', '9.45 ka', '10.6 ka', '14.39 ka', '14.61 ka']
ka_arrow_cm = [119.4, 127.4, 155.0, 298.1, 305.4]
ka_text_cm = [118.8, 127.4, 163.0, 285.3, 314.0]

x_major_ticks = list(range(0, 451, 50))
x_minor_ticks = list(range(0, 451, 5))


def unzip(pts):
    return [p[0] for p in pts], [p[1] for p in pts]


# ---------------- geometry helpers ----------------
W, H = 874, 626
ML, MR, MT, MB = 66, 58, 4, 68
TOP_PX, BOT_PX = MT, H - MB
PLOT_H = BOT_PX - TOP_PX
PLOT_W = W - ML - MR
X_MAX = 466.1
CM_PER_PX = X_MAX / PLOT_W
FONT = 'Liberation Sans, Arial, sans-serif'


def py_to_paper(py):
    return (BOT_PX - py) / PLOT_H


def px_to_paper(px):
    return (px - ML) / PLOT_W


def val_at(a, py):
    v1, p1, v2, p2 = a
    return v1 + (py - p1) * (v2 - v1) / (p2 - p1)


def px_of(a, v):
    v1, p1, v2, p2 = a
    return p1 + (v - v1) * (p2 - p1) / (v2 - v1)


def fmt(v):
    return ('%g' % v).replace('.', ',')


SERIES = [
    dict(xy=unzip(br_bio_pts), color='#00FFFF', anchor=(800, 18.3, 400, 88.7), side='right',
         span=(400, 800), major=[400, 500, 600, 700, 800], minor=[450, 550, 650, 750],
         title='Br-bio (cps)', tpos=(862, 53)),
    dict(xy=unzip(si_bio_pts), color='#003333', anchor=(3200, 94, 1600, 139.3), side='left',
         span=(1600, 3280), major=[1600, 2400, 3200], minor=[2000, 2800],
         title='Si-bio (cps)', tpos=(15, 115)),
    dict(xy=unzip(ba_bio_pts), color='#663333', anchor=(240, 187.3, 160, 205.7), side='right',
         span=(100, 300), major=[160, 240], minor=[120, 200, 280],
         title='Ba-bio (cps)', tpos=(862, 196)),
    dict(xy=(depth_cm, caco3_wt_pct), color='#990099', anchor=(4, 189.3, 0, 244.3), side='left',
         span=(0, 4.17), major=[0, 1, 2, 3, 4], minor=[0.5, 1.5, 2.5, 3.5],
         title='CaCO<sub>3</sub> (wt %)', tpos=(32, 205)),
    dict(xy=unzip(ln_chlorin_pts), color='#006633', anchor=(-4, 242.7, -6, 314), side='right',
         span=(-6, -4), major=[-6, -5.6, -5.2, -4.8, -4.4, -4], minor=[-5.8, -5.4, -5.0, -4.6, -4.2],
         title='ln(chlorin) (ng g<sup>-1</sup>)', tpos=(862, 279)),
    dict(xy=unzip(toc_pts), color='#FF0000', anchor=(1.2, 293.3, 0.4, 371.7), side='left',
         span=(0.4, 1.22), major=[0.4, 0.6, 0.8, 1.0, 1.2], minor=[0.5, 0.7, 0.9, 1.1],
         title='TOC (wt %)', tpos=(24, 335)),
    dict(xy=unzip(color_b_pts), color='#0000FF', anchor=(7, 345, 3, 426.7), side='right',
         span=(3, 7), major=[3, 4, 5, 6, 7], minor=[3.5, 4.5, 5.5, 6.5],
         title='color b*', tpos=(852, 386)),
    dict(xy=unzip(pm_pts), color='#996633', anchor=(0.05, 404.3, 0.08, 460), side='left',
         span=(0.05, 0.083), major=[0.05, 0.06, 0.07, 0.08],
         minor=[0.0533, 0.0567, 0.0633, 0.0667, 0.0733, 0.0767],
         title='PM (Am<sup>2</sup> kg<sup>-1</sup>)', tpos=(17.5, 431)),
    dict(xy=unzip(cf_pts), color='#FF0000', anchor=(24, 482.7, 16, 505.3), side='left',
         span=(10.2, 30.2), major=[16, 24], minor=[12, 20, 28],
         title='CF (wt %)', tpos=(27, 497)),
    dict(xy=unzip(ms_pts), color='#006633', anchor=(4.8, 458.3, 4.0, 478.3), side='right',
         span=(3.6, 5.55), major=[4.0, 4.8], minor=[3.6, 4.4, 5.2],
         title='MS (*10<sup>-6</sup> SI)', tpos=(858, 464)),
    dict(xy=(depth_cm, volcanic_glass), color='#663333', anchor=(12, 516.7, 4, 557.3), side='right',
         span=(4, 12.2), major=[4, 8, 12], minor=[6, 10],
         title='Volcanic<br>glass', tpos=(862, 540)),
]

fig = go.Figure()
layout = {}

fig.add_trace(go.Scatter(x=[None], y=[None], xaxis='x', yaxis='y', showlegend=False,
                         hoverinfo='skip'))
layout['yaxis'] = dict(domain=[0, 1], range=[0, 1], visible=False)

n_series = len(SERIES)
annotations = []
for i, s in enumerate(SERIES):
    data_ax = i + 2
    vis_ax = i + 2 + n_series
    a = s['anchor']
    xs, ys = s['xy']
    fig.add_trace(go.Scatter(x=xs, y=ys, mode='lines',
                             line=dict(color=s['color'], width=1.5),
                             xaxis='x', yaxis='y%d' % data_ax, showlegend=False,
                             connectgaps=False, hoverinfo='skip'))
    layout['yaxis%d' % data_ax] = dict(overlaying='y', visible=False,
                                       range=[val_at(a, BOT_PX), val_at(a, TOP_PX)])
    p_lo = px_of(a, s['span'][0])
    p_hi = px_of(a, s['span'][1])
    p_bottom = max(p_lo, p_hi) + 0.4
    p_top = min(p_lo, p_hi) - 0.4
    fig.add_trace(go.Scatter(x=[None], y=[None], xaxis='x', yaxis='y%d' % vis_ax,
                             showlegend=False, hoverinfo='skip'))
    layout['yaxis%d' % vis_ax] = dict(
        domain=[py_to_paper(p_bottom), py_to_paper(p_top)],
        range=[val_at(a, p_bottom), val_at(a, p_top)],
        anchor='free', position=0 if s['side'] == 'left' else 1, side=s['side'],
        automargin=False,
        showline=True, linecolor=s['color'], linewidth=1.6,
        showgrid=False, zeroline=False,
        tickmode='array', tickvals=s['major'], ticktext=[fmt(v) for v in s['major']],
        ticks='outside', ticklen=7, tickwidth=1.4, tickcolor=s['color'],
        tickfont=dict(size=10.5, color='#111111', family=FONT),
        minor=dict(tickmode='array', tickvals=s['minor'], ticks='outside', ticklen=4,
                   tickwidth=1.4, tickcolor=s['color'], showgrid=False),
    )
    tx, ty = s['tpos']
    annotations.append(dict(text=s['title'], xref='paper', yref='paper',
                            x=px_to_paper(tx), y=py_to_paper(ty), textangle=-90,
                            showarrow=False, xanchor='center', yanchor='middle',
                            font=dict(size=11, color='#111111', family=FONT)))

layout['xaxis'] = dict(domain=[0, 1], range=[0, X_MAX], anchor='y', showline=False,
                       showgrid=False, zeroline=False, automargin=False,
                       tickmode='array', tickvals=x_major_ticks,
                       ticktext=[str(v) for v in x_major_ticks],
                       ticks='outside', ticklen=7, tickwidth=1.5, tickcolor='black',
                       ticklabelstandoff=6,
                       tickfont=dict(size=16, color='black', family=FONT),
                       minor=dict(tickmode='array', tickvals=x_minor_ticks, ticks='outside',
                                  ticklen=4, tickwidth=1.3, tickcolor='black'))

shapes = []
band_top = py_to_paper(37)
for x0, x1, kind in zip(band_start_cm, band_end_cm, band_kind):
    shapes.append(dict(type='rect', xref='x', yref='paper', x0=x0, x1=x1, y0=0, y1=band_top,
                       fillcolor='#9EFFFF' if kind == 'c' else '#FFFF00',
                       line=dict(width=0), layer='below'))
for xb in boundary_cm:
    shapes.append(dict(type='line', xref='x', yref='paper', x0=xb, x1=xb, y0=0,
                       y1=py_to_paper(14), line=dict(color='black', width=1.6)))
shapes.append(dict(type='line', xref='x', yref='paper', x0=0, x1=450, y0=0, y1=0,
                   line=dict(color='black', width=2)))

for x0, x1, lab in zip(band_start_cm, band_end_cm, band_label):
    annotations.append(dict(text=lab, xref='x', yref='paper', x=(x0 + x1) / 2,
                            y=py_to_paper(47), showarrow=False,
                            font=dict(size=11, color='black', family=FONT)))
for name, xc in zip(period_names, period_center_cm):
    annotations.append(dict(text=name, xref='x', yref='paper', x=xc, y=py_to_paper(21),
                            showarrow=False, font=dict(size=13, color='#111111', family=FONT)))

annotations.append(dict(text='Core length (cm)', xref='paper', yref='paper',
                        x=px_to_paper(427), y=py_to_paper(606), showarrow=False,
                        xanchor='center', yanchor='middle',
                        font=dict(size=19, color='black', family=FONT)))

tip_py, elbow_py, head_py = 559.5, 570.7, 565.5
head_half_cm = 2.3 * CM_PER_PX
for lab, xa, xt in zip(ka_labels, ka_arrow_cm, ka_text_cm):
    shapes.append(dict(type='line', xref='x', yref='paper', x0=xa, x1=xa,
                       y0=py_to_paper(head_py), y1=py_to_paper(elbow_py),
                       line=dict(color='black', width=1.1)))
    shapes.append(dict(type='path', xref='x', yref='paper',
                       path='M %f,%f L %f,%f L %f,%f Z' % (
                           xa, py_to_paper(tip_py),
                           xa - head_half_cm, py_to_paper(head_py),
                           xa + head_half_cm, py_to_paper(head_py)),
                       fillcolor='black', line=dict(color='black', width=0.5)))
    if abs(xt - xa) > 2:
        shapes.append(dict(type='line', xref='x', yref='paper', x0=xa, x1=xt,
                           y0=py_to_paper(elbow_py), y1=py_to_paper(elbow_py),
                           line=dict(color='black', width=1.1)))
    text_len = 4.2 * len(lab) + 5
    annotations.append(dict(text='<b>%s</b>' % lab, xref='x', yref='paper', x=xt,
                            y=py_to_paper(572 + text_len / 2), textangle=-90,
                            showarrow=False, xanchor='center', yanchor='middle',
                            font=dict(size=11, color='black', family=FONT)))

layout.update(dict(width=W, height=H,
                   margin=dict(l=ML, r=MR, t=MT, b=MB, autoexpand=False),
                   paper_bgcolor='white', plot_bgcolor='rgba(0,0,0,0)',
                   font=dict(family=FONT), showlegend=False,
                   shapes=shapes, annotations=annotations))
fig.update_layout(**layout)
fig.write_html('out.html', config={'displayModeBar': False, 'staticPlot': True},
               post_script="document.body.style.margin='0px';"
                           "document.body.style.overflow='hidden';")
